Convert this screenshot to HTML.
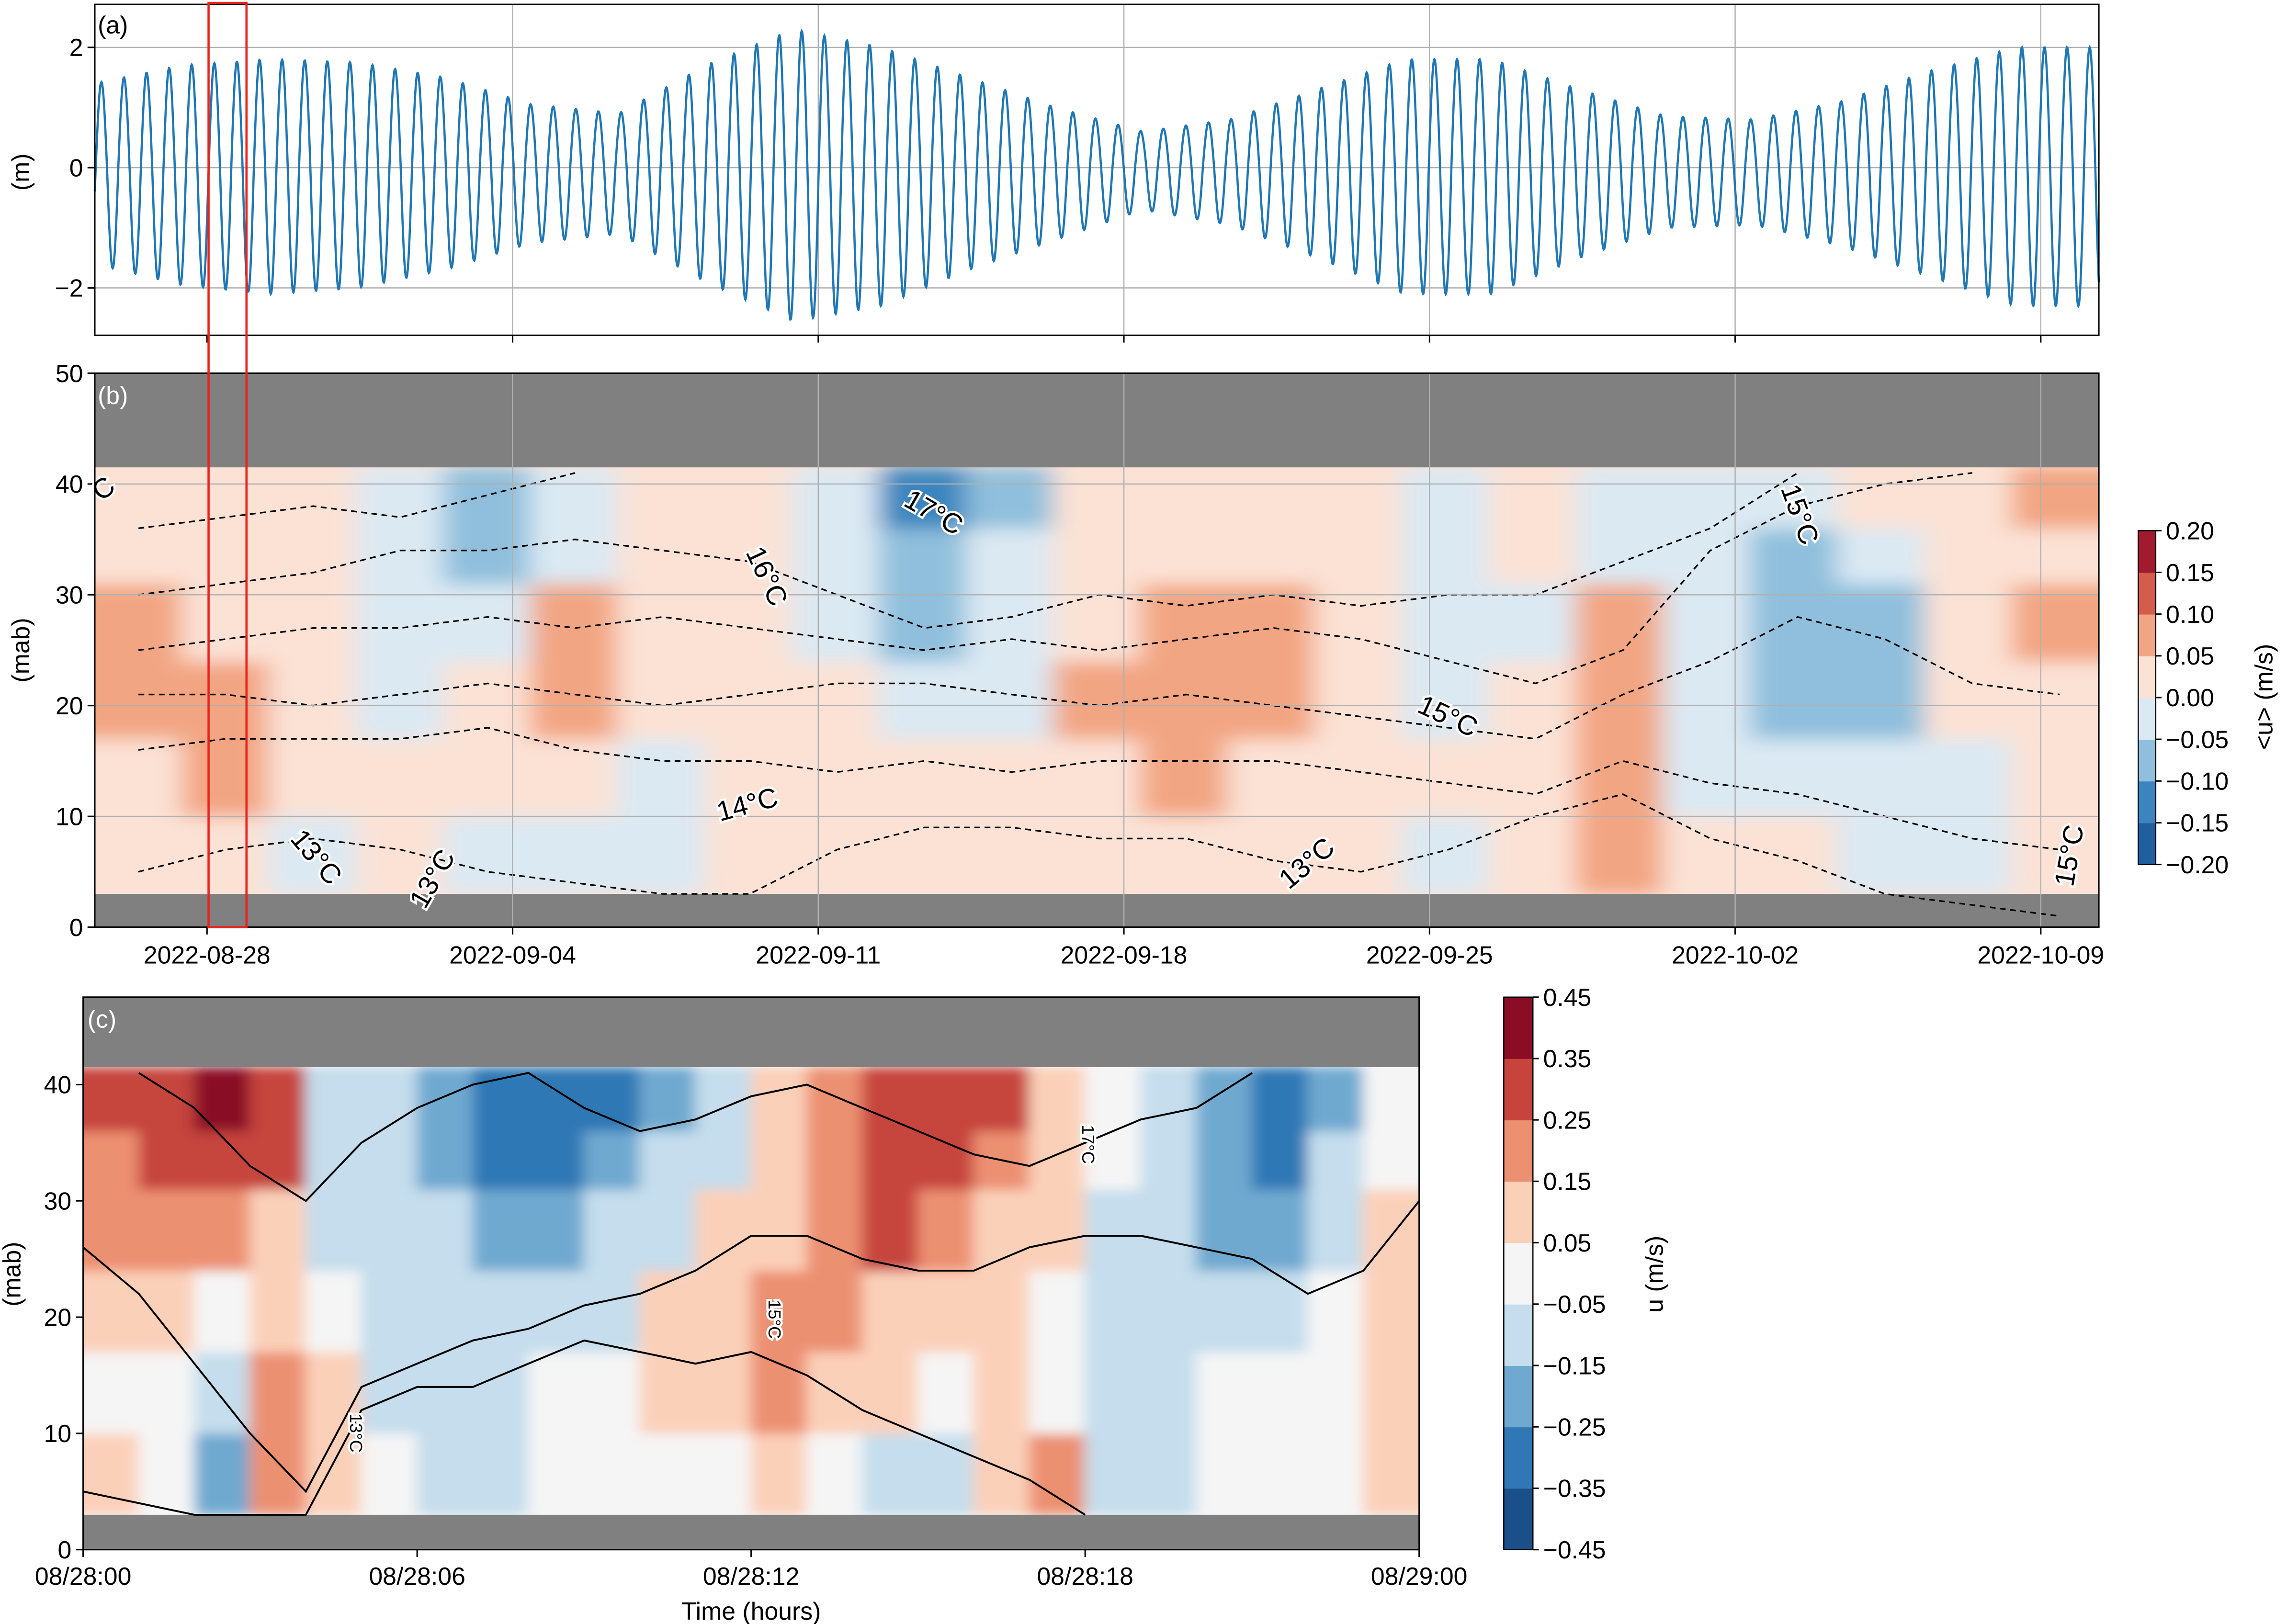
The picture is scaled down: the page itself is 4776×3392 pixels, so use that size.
<!DOCTYPE html>
<html><head><meta charset="utf-8"><style>
html,body{margin:0;padding:0;background:#fff}
svg{display:block}
text{font-family:"Liberation Sans",sans-serif;fill:#000}
</style></head><body>
<svg id="fig" xmlns="http://www.w3.org/2000/svg" width="4776" height="3392" viewBox="0 0 1568 1114" preserveAspectRatio="none">
<defs>
<filter id="blurB" x="-5%" y="-5%" width="110%" height="110%"><feGaussianBlur stdDeviation="9 6"/></filter>
<filter id="blurC" x="-5%" y="-5%" width="110%" height="110%"><feGaussianBlur stdDeviation="5 4"/></filter>
<clipPath id="clipB"><rect x="65" y="256" width="1374" height="380"/></clipPath>
<clipPath id="clipC"><rect x="57" y="684" width="916" height="379"/></clipPath>
</defs>
<g id="pa"></g>
<g id="pb"></g>
<g id="pc"></g>
</svg>
<script>
// ---------- Panel (a) data: tidal envelope every 2 days from start ----------
const tideHigh = [1.4,1.7,1.8,1.75,1.5,1.05,0.9,1.7,2.3,2.0,1.5,1.0,0.6,0.8,1.3,1.8,1.8,1.3,0.85,0.8,1.1,1.6,2.0,2.0];
const tideLow  = [1.6,1.95,2.1,2.0,1.7,1.25,1.1,1.9,2.55,2.3,1.7,1.2,0.7,0.95,1.5,2.1,2.1,1.5,1.0,0.95,1.3,1.8,2.3,2.3];
const aYTicks = [-2,0,2];
const dateLabels = ["2022-08-28","2022-09-04","2022-09-11","2022-09-18","2022-09-25","2022-10-02","2022-10-09"];
const dateDays = [2.57,9.57,16.57,23.57,30.57,37.57,44.57];
// ---------- Panel (b) data ----------
const bRowBounds = [3,10,17,24,31,36,41.5];
const bVals = [ // rows bottom->top, 2-day columns
 [0.025,0.025,-0.025,0.025,-0.025,-0.025,-0.025,0.025,0.025,0.025,0.025,0.025,0.025,0.025,0.025,-0.025,0.025,0.075,0.025,0.025,-0.025,-0.025,0.025],
 [0.025,0.075,0.025,0.025,0.025,0.025,-0.025,0.025,0.025,0.025,0.025,0.025,0.075,0.025,0.025,0.025,0.025,0.075,-0.025,-0.025,-0.025,-0.025,0.025],
 [0.075,0.075,0.025,-0.025,0.025,0.075,0.025,0.025,0.025,-0.025,-0.025,0.075,0.075,0.075,0.025,-0.025,0.025,0.075,-0.025,-0.075,-0.075,0.025,0.025],
 [0.075,0.025,0.025,-0.025,-0.025,0.075,0.025,0.025,-0.025,-0.075,-0.025,0.025,0.075,0.075,0.025,-0.025,-0.025,0.075,-0.025,-0.075,-0.075,0.025,0.075],
 [0.025,0.025,0.025,-0.025,-0.075,-0.025,0.025,0.025,-0.025,-0.075,-0.025,0.025,0.025,0.025,0.025,-0.025,0.025,-0.025,-0.025,-0.075,-0.025,0.025,0.025],
 [0.025,0.025,0.025,-0.025,-0.075,-0.025,0.025,0.025,-0.025,-0.125,-0.075,0.025,0.025,0.025,0.025,-0.025,0.025,-0.025,-0.025,-0.025,0.025,0.025,0.075]
];
const bIso = [
 [36,37,38,37,39,41,null,null,null,null,null,null,null,null,null,null,null,null,null,null,null,null,null],
 [30,31,32,34,34,35,34,33,30,27,28,30,29,30,29,30,30,33,36,41,null,null,null],
 [25,26,27,27,28,27,28,27,26,25,26,25,26,27,26,24,22,25,34,38,40,41,null],
 [21,21,20,21,22,21,20,21,22,22,21,20,21,20,19,18,17,21,24,28,26,22,21],
 [16,17,17,17,18,16,15,15,14,15,14,15,15,15,14,13,12,15,13,12,10,8,7],
 [5,7,8,7,5,4,3,3,7,9,9,8,8,6,5,7,10,12,8,6,3,2,1]
];
const bLevels = [-0.2,-0.15,-0.1,-0.05,0,0.05,0.1,0.15,0.2];
const bColors = ["#1f5fa0","#3a85bf","#8fbfdc","#dbe9f3","#fbe2d5","#f2a582","#d35c4a","#a11a2d"];
const mabTicksB = [0,10,20,30,40,50];
// ---------- Panel (c) data ----------
const cRowBounds = [3,10,17,24,31,36,41.5];
const cVals = [
 [0.1,0,-0.2,0.2,0.1,0,-0.1,-0.1,0,0,0,0,0.1,0,-0.1,-0.1,0.1,0.2,-0.1,-0.1,0,0,0,0.1],
 [0,0,-0.1,0.2,0.1,-0.1,-0.1,-0.1,0,0,0.1,0.1,0.2,0.1,0.1,0,0.1,0,-0.1,-0.1,0,0,0,0.1],
 [0.1,0.1,0,0.1,0,-0.1,-0.1,-0.1,-0.1,-0.1,0.1,0.1,0.2,0.2,0.1,0.1,0.1,0,-0.1,-0.1,-0.1,-0.1,0,0.1],
 [0.2,0.2,0.2,0.1,-0.1,-0.1,-0.1,-0.2,-0.2,-0.1,-0.1,0.1,0.1,0.2,0.3,0.2,0.1,0.1,-0.1,-0.1,-0.2,-0.2,-0.1,0.1],
 [0.2,0.3,0.3,0.3,-0.1,-0.1,-0.2,-0.3,-0.3,-0.2,-0.1,-0.1,0.1,0.2,0.3,0.3,0.2,0.1,0,-0.1,-0.2,-0.3,-0.1,0],
 [0.3,0.3,0.4,0.3,-0.1,-0.1,-0.2,-0.3,-0.3,-0.3,-0.2,-0.1,0.1,0.2,0.3,0.3,0.3,0.1,0,-0.1,-0.2,-0.3,-0.2,0]
];
const cIso = [
 [26,22,16,10,5,14,16,18,19,21,22,24,27,27,25,24,24,26,27,27,26,25,22,24,30],
 [null,41,38,33,30,35,38,40,41,38,36,37,39,40,38,36,34,33,35,37,38,41,null,null,null],
 [5,4,3,3,3,12,14,14,16,18,17,16,17,15,12,10,8,6,3,null,null,null,null,null,null]
];
const cLevels = [-0.45,-0.35,-0.25,-0.15,-0.05,0.05,0.15,0.25,0.35,0.45];
const cColors = ["#1a4f8a","#2f78b5","#6fa9d0","#c5ddec","#f5f5f5","#fbd0b9","#ec9072","#c6443c","#8a0d25"];
const cXLabels = ["08/28:00","08/28:06","08/28:12","08/28:18","08/29:00"];
const mabTicksC = [0,10,20,30,40];

const NS="http://www.w3.org/2000/svg";
function mk(parent,tag,attrs,txt){const e=document.createElementNS(NS,tag);for(const k in attrs)e.setAttribute(k,attrs[k]);if(txt!==undefined)e.textContent=txt;parent.appendChild(e);return e;}

const X0=65,X1=1439,TOTAL=45.9;
const xDay=d=>X0+(X1-X0)*d/TOTAL;
function colorFor(v,levels,colors){for(let i=0;i<colors.length;i++){if(v>=levels[i]&&v<levels[i+1])return colors[i];}return v<levels[0]?colors[0]:colors[colors.length-1];}

// ---- Panel a ----
const pa=document.getElementById('pa');
const yA=v=>115-v*41.25;
aYTicks.forEach(t=>{const l=mk(pa,'line',{x1:X0,x2:X1,y1:yA(t),y2:yA(t),stroke:'#b0b0b0','stroke-width':0.8});
 const tx=mk(pa,'text',{x:X0-8,y:yA(t)+6,'font-size':17,'text-anchor':'end'},t===0?'0':(t<0?'\u2212'+(-t):''+t));
 mk(pa,'line',{x1:X0-5,x2:X0,y1:yA(t),y2:yA(t),stroke:'#000'});});
dateDays.forEach((d,i)=>{if(i>0){const l=mk(pa,'line',{x1:xDay(d),x2:xDay(d),y1:3,y2:230,stroke:'#b0b0b0','stroke-width':0.8});}mk(pa,'line',{x1:xDay(d),x2:xDay(d),y1:230,y2:235,stroke:'#000'});});
let pts=[];
for(let t=0;t<=TOTAL;t+=0.01){const k=t/2;const i=Math.min(Math.floor(k),tideHigh.length-2);const f=Math.min(k-i,1);
 const hi=tideHigh[i]*(1-f)+tideHigh[i+1]*f, lo=tideLow[i]*(1-f)+tideLow[i+1]*f;
 const c=Math.cos(2*Math.PI*(t-0.15)/0.5175);const v=c>=0?hi*c:lo*c;pts.push(xDay(t).toFixed(2)+','+yA(v).toFixed(2));}
const tl=mk(pa,'polyline',{points:pts.join(' '),fill:'none',stroke:'#1f77b4','stroke-width':1.5});

mk(pa,'rect',{x:X0,y:3,width:X1-X0,height:227,fill:'none',stroke:'#000','stroke-width':1});
mk(pa,'text',{x:67,y:23,'font-size':17},'(a)');
const ya=mk(pa,'text',{x:20,y:118,'font-size':17,'text-anchor':'middle',transform:'rotate(-90 20 118)'},'(m)');

// ---- Panel b ----
const pb=document.getElementById('pb');
const yB=v=>636-v*7.6;
const nColB=bVals[0].length, colW=(X1-X0)/nColB;
const gbc=mk(pb,'g',{'clip-path':'url(#clipB)'});
mk(gbc,'rect',{x:X0,y:256,width:X1-X0,height:380,fill:bColors[4]});
const gb=mk(gbc,'g',{filter:'url(#blurB)'});
bVals.forEach((row,r)=>row.forEach((v,c)=>{const x=X0+c*colW,y0=yB(bRowBounds[r+1]),y1=yB(bRowBounds[r]);
 const e=mk(gb,'rect',{x:x-0.3-(c===0?20:0),y:y0-0.3,width:colW+0.6+(c===0||c===nColB-1?20:0),height:y1-y0+0.6,fill:colorFor(v,bLevels,bColors)});
 }));
mk(pb,'rect',{x:X0,y:yB(50),width:X1-X0,height:yB(41.5)-yB(50),fill:'#808080'});
mk(pb,'rect',{x:X0,y:yB(3),width:X1-X0,height:yB(0)-yB(3),fill:'#808080'});
bIso.forEach(line=>{let seg=[];const segs=[];line.forEach((v,i)=>{if(v===null){if(seg.length)segs.push(seg);seg=[];}else seg.push(xDay(i*2+1).toFixed(1)+','+yB(v).toFixed(1));});if(seg.length)segs.push(seg);
 segs.forEach(s=>{const e=mk(pb,'polyline',{points:s.join(' '),fill:'none',stroke:'#000','stroke-width':1.1,'stroke-dasharray':'4,3'});});});
mabTicksB.forEach(t=>{if(t>0&&t<50)mk(pb,'line',{x1:X0,x2:X1,y1:yB(t),y2:yB(t),stroke:'#b0b0b0','stroke-width':0.8});
 mk(pb,'line',{x1:X0-5,x2:X0,y1:yB(t),y2:yB(t),stroke:'#000'});
 const tx=mk(pb,'text',{x:X0-8,y:yB(t)+6,'font-size':17,'text-anchor':'end'},''+t);});
dateDays.forEach((d,i)=>{if(i>0)mk(pb,'line',{x1:xDay(d),x2:xDay(d),y1:256,y2:636,stroke:'#b0b0b0','stroke-width':0.8});
 mk(pb,'line',{x1:xDay(d),x2:xDay(d),y1:636,y2:641,stroke:'#000'});
 const tx=mk(pb,'text',{x:xDay(d),y:661,'font-size':17,'text-anchor':'middle'},dateLabels[i]);});
[["17°C",637,357,30],["16°C",520,398,65],["15°C",990,497,25],["15°C",1228,355,70],["14°C",514,558,-15],["13°C",212,592,50],["13°C",302,606,-60],["13°C",900,597,-40],["15°C",1425,588,-80],["C",75,340,-40]].forEach(a=>{
 const e=mk(pb,'text',{x:a[1],y:a[2],'font-size':19,'text-anchor':'middle',transform:`rotate(${a[3]} ${a[1]} ${a[2]})`,stroke:'#fff','stroke-width':3,'paint-order':'stroke'},a[0]);});
mk(pb,'rect',{x:X0,y:256,width:X1-X0,height:380,fill:'none',stroke:'#000'});
mk(pb,'text',{x:67,y:277,'font-size':17,style:'fill:#fff'},'(b)');
mk(pb,'text',{x:20,y:446,'font-size':17,'text-anchor':'middle',transform:'rotate(-90 20 446)'},'(mab)');
const rb=mk(pb,'rect',{x:143,y:2,width:26,height:634,fill:'none',stroke:'#e8231b','stroke-width':1.5});
const cbY0=364,cbY1=593,cbH=(cbY1-cbY0)/bColors.length;
bColors.forEach((c,i)=>{const e=mk(pb,'rect',{x:1466,y:cbY1-(i+1)*cbH,width:12,height:cbH+0.3,fill:c});});
mk(pb,'rect',{x:1466,y:cbY0,width:12,height:cbY1-cbY0,fill:'none',stroke:'#000','stroke-width':0.8});
bLevels.forEach((l,i)=>{const y=cbY1-i*cbH;mk(pb,'line',{x1:1478,x2:1482,y1:y,y2:y,stroke:'#000'});
 const tx=mk(pb,'text',{x:1485,y:y+6,'font-size':17},(l<0?'\u2212':'')+Math.abs(l).toFixed(2));});
mk(pb,'text',{x:1558,y:478,'font-size':17,'text-anchor':'middle',transform:'rotate(-90 1558 478)'},'<u> (m/s)');

// ---- Panel c ----
const pc=document.getElementById('pc');
const CX0=57,CX1=973;
const xH=h=>CX0+(CX1-CX0)*h/24;
const yC=v=>1063-v*7.975;
const gcc=mk(pc,'g',{'clip-path':'url(#clipC)'});
mk(gcc,'rect',{x:CX0,y:684,width:CX1-CX0,height:379,fill:cColors[4]});
const gc=mk(gcc,'g',{filter:'url(#blurC)'});
const nColC=cVals[0].length;
cVals.forEach((row,r)=>row.forEach((v,c)=>{const y0=yC(cRowBounds[r+1]),y1=yC(cRowBounds[r]);
 const e=mk(gc,'rect',{x:xH(c)-0.3-(c===0?15:0),y:y0-0.3,width:xH(1)-xH(0)+0.6+(c===0||c===nColC-1?15:0),height:y1-y0+0.6,fill:colorFor(v,cLevels,cColors)});
 }));
mk(pc,'rect',{x:CX0,y:684,width:CX1-CX0,height:yC(41.5)-684,fill:'#808080'});
mk(pc,'rect',{x:CX0,y:yC(3),width:CX1-CX0,height:yC(0)-yC(3),fill:'#808080'});
cIso.forEach(line=>{let seg=[];const segs=[];line.forEach((v,i)=>{if(v===null){if(seg.length)segs.push(seg);seg=[];}else seg.push(xH(i).toFixed(1)+','+yC(v).toFixed(1));});if(seg.length)segs.push(seg);
 segs.forEach(s=>{const e=mk(pc,'polyline',{points:s.join(' '),fill:'none',stroke:'#000','stroke-width':1.3});});});
[["17°C",742,785],["15°C",527,905],["13°C",240,983]].forEach(a=>{const e=mk(pc,'text',{x:a[1],y:a[2],'font-size':12,'text-anchor':'middle',transform:`rotate(90 ${a[1]} ${a[2]})`,stroke:'#fff','stroke-width':3,'paint-order':'stroke'},a[0]);});
mabTicksC.forEach(t=>{mk(pc,'line',{x1:CX0-5,x2:CX0,y1:yC(t),y2:yC(t),stroke:'#000'});
 const tx=mk(pc,'text',{x:CX0-8,y:yC(t)+6,'font-size':17,'text-anchor':'end'},''+t);});
cXLabels.forEach((l,i)=>{const x=xH(i*6);mk(pc,'line',{x1:x,x2:x,y1:1063,y2:1068,stroke:'#000'});
 const tx=mk(pc,'text',{x:x,y:1087,'font-size':17,'text-anchor':'middle'},l);});
mk(pc,'rect',{x:CX0,y:684,width:CX1-CX0,height:379,fill:'none',stroke:'#000'});
mk(pc,'text',{x:60,y:705,'font-size':17,style:'fill:#fff'},'(c)');
mk(pc,'text',{x:14,y:874,'font-size':17,'text-anchor':'middle',transform:'rotate(-90 14 874)'},'(mab)');
mk(pc,'text',{x:515,y:1111,'font-size':17,'text-anchor':'middle'},'Time (hours)');
const c2Y0=684,c2Y1=1063,c2H=(c2Y1-c2Y0)/cColors.length;
cColors.forEach((c,i)=>{const e=mk(pc,'rect',{x:1031,y:c2Y1-(i+1)*c2H,width:20,height:c2H+0.3,fill:c});});
mk(pc,'rect',{x:1031,y:c2Y0,width:20,height:c2Y1-c2Y0,fill:'none',stroke:'#000','stroke-width':0.8});
cLevels.forEach((l,i)=>{const y=c2Y1-i*c2H;mk(pc,'line',{x1:1051,x2:1055,y1:y,y2:y,stroke:'#000'});
 const tx=mk(pc,'text',{x:1058,y:y+6,'font-size':17},(l<0?'\u2212':'')+Math.abs(l).toFixed(2));});
mk(pc,'text',{x:1140,y:874,'font-size':17,'text-anchor':'middle',transform:'rotate(-90 1140 874)'},'u (m/s)');
</script>
</body></html>
